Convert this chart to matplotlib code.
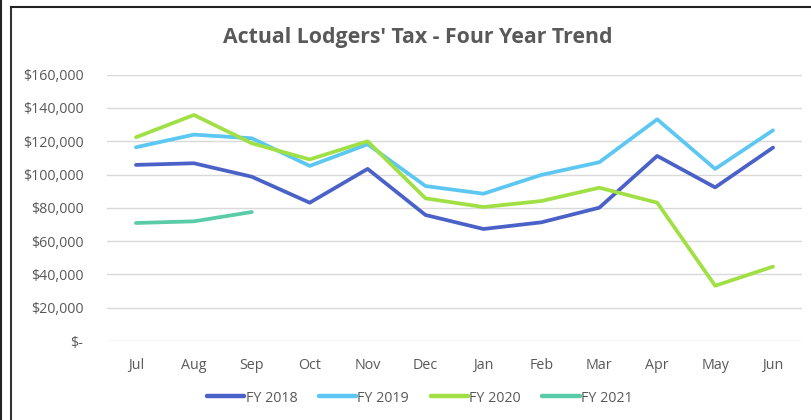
import matplotlib.pyplot as plt
from matplotlib.lines import Line2D
from matplotlib.ticker import FuncFormatter

months = ["Jul", "Aug", "Sep", "Oct", "Nov", "Dec", "Jan", "Feb", "Mar", "Apr", "May", "Jun"]

fy2018 = [105800, 106800, 98700, 83100, 103400, 75700, 67300, 71300, 80100, 111200, 92300, 116200]
fy2019 = [116400, 124000, 121800, 105200, 118200, 93100, 88500, 99800, 107400, 133200, 103400, 126600]
fy2020 = [122400, 135800, 118800, 109100, 120000, 85700, 80500, 84100, 92100, 83100, 33200, 44700]
fy2021 = [70900, 71900, 77500]

series = [
    ("FY 2018", fy2018, "#4A62C8"),
    ("FY 2019", fy2019, "#5BC7F2"),
    ("FY 2020", fy2020, "#A0E044"),
    ("FY 2021", fy2021, "#5ACBA8"),
]

plt.rcParams["font.family"] = ["Open Sans", "DejaVu Sans"]
TXT = "#595959"

fig = plt.figure(figsize=(8.12, 4.2), dpi=100)
ax = fig.add_axes([107 / 812, 1 - 341 / 420, (802 - 107) / 812, (341 - 74.7) / 420])

x = list(range(len(months)))
for label, vals, color in series:
    ax.plot(x[:len(vals)], vals, color=color, linewidth=2.7, solid_capstyle="round",
            solid_joinstyle="round", label=label)

ax.set_xlim(-0.5, len(months) - 0.5)
ax.set_ylim(0, 160000)
ax.set_yticks(range(0, 160001, 20000))
ax.yaxis.set_major_formatter(FuncFormatter(lambda v, _: "$-" if v == 0 else f"${v:,.0f}"))
ax.set_xticks(x)
ax.set_xticklabels(months)
ax.tick_params(length=0, colors=TXT, labelsize=10.3)
ax.tick_params(axis="x", pad=12)
ax.tick_params(axis="y", pad=17)
ax.grid(axis="y", color="#D9D9D9", linewidth=1.0)
ax.set_axisbelow(True)
for s in ax.spines.values():
    s.set_visible(False)

fig.text(0.514, 1 - 38 / 420, "Actual Lodgers' Tax - Four Year Trend", ha="center", va="center",
         fontsize=15.3, fontweight="bold", color=TXT)

handles = [Line2D([0], [0], color=c, linewidth=3.2, solid_capstyle="round") for _, _, c in series]
fig.legend(handles, [s[0] for s in series], loc="center", bbox_to_anchor=(0.517, 1 - 398 / 420),
           ncol=4, frameon=False, fontsize=10.3, labelcolor=TXT, handlelength=2.6,
           handletextpad=0.1, columnspacing=1.5)

# chart frame
fig.add_artist(Line2D([1.5 / 812, 1.5 / 812], [0, 1], color="#222222", linewidth=1.5))
fig.add_artist(Line2D([11 / 812, 11 / 812], [0, 1 - 7 / 420], color="#333333", linewidth=1.5))
fig.add_artist(Line2D([11 / 812, 1], [1 - 7 / 420, 1 - 7 / 420], color="#222222", linewidth=1.5))

fig.savefig("out.png", dpi=100)
